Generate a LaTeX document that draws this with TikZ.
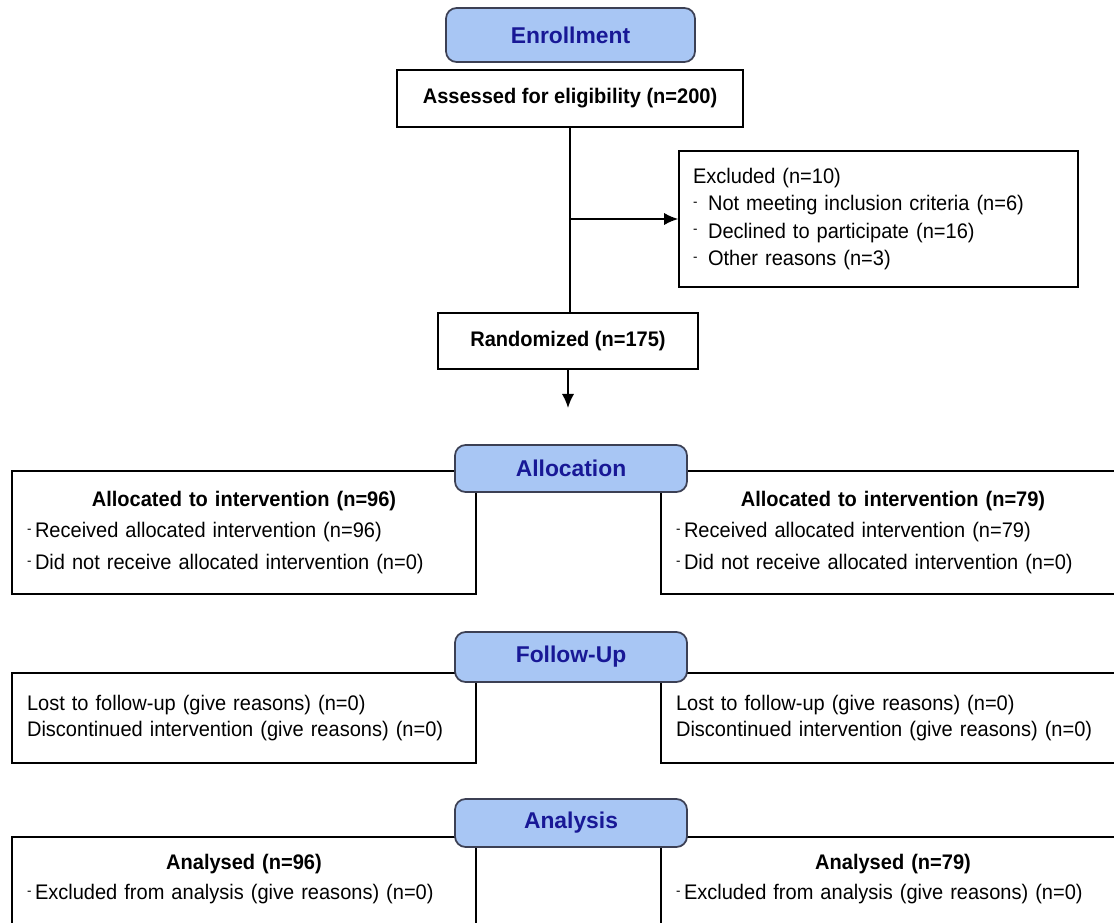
\documentclass[tikz,border=0pt]{standalone}
\usepackage{fontspec}
\setmainfont{Liberation Sans}[FakeStretch=0.95]
\newfontfamily\hdrfont{Liberation Sans}
\usepackage{xcolor}
\usetikzlibrary{arrows.meta}
\definecolor{hdrfill}{RGB}{168,198,244}
\definecolor{hdrline}{RGB}{60,64,84}
\definecolor{hdrtext}{RGB}{24,24,150}
\newcommand\dsh{\raisebox{.4ex}{\footnotesize -}\,}

\begin{document}
\begin{tikzpicture}
[x=0.02cm, y=-0.02cm,
 HeadNode/.style={rectangle, rounded corners=6pt,
    draw=hdrline, fill=hdrfill, line width=1pt,
    minimum width=4.64cm, minimum height=0.94cm,
    font=\hdrfont\fontsize{13}{15}\selectfont\bfseries, text=hdrtext},
 BoxNode/.style={rectangle,
    draw, fill=white, line width=1pt,
    font=\fontsize{12}{14}\selectfont},
 GroupNode/.style={BoxNode,
    minimum width=9.28cm, text width=8.68cm, inner xsep=0.3cm,
    align=left},
 Link/.style={line width=1pt},
 LinkArrow/.style={Link, -{Latex[length=8pt,width=7pt]}}]
\useasboundingbox (0,0) rectangle (1114,922);

% enrollment
\node[BoxNode, minimum width=6.92cm, minimum height=1.14cm, font=\fontsize{12}{14}\selectfont\bfseries]
    (assess) at (570,98.5) {Assessed for eligibility (n=200)};
\node[BoxNode, minimum width=7.98cm, minimum height=2.72cm, text width=7.42cm,
    inner xsep=0.28cm, align=left, font=\fontsize{12}{15.6}\selectfont]
    (excl) at (878.5,219) {Excluded (n=10)\\
    \dsh\ Not meeting inclusion criteria (n=6)\\
    \dsh\ Declined to participate (n=16)\\
    \dsh\ Other reasons (n=3)};
\node[BoxNode, minimum width=5.2cm, minimum height=1.12cm, font=\fontsize{12}{14}\selectfont\bfseries]
    (rand) at (568,341) {Randomized (n=175)};
\coordinate (allocTip) at (568,408);

\draw[Link] (assess.south) -- (assess.south |- rand.north);
\draw[LinkArrow] (assess.south |- excl.west) -- (excl.west);
\draw[LinkArrow] (rand.south) -- (allocTip);

% allocation
\node[GroupNode, minimum height=2.46cm, font=\fontsize{12}{18}\selectfont]
    (allocL) at (244,532.5) {\makebox[\hsize]{\bfseries Allocated to intervention (n=96)}\\
    \dsh Received allocated intervention (n=96)\\
    \dsh Did not receive allocated intervention (n=0)};
\node[GroupNode, minimum height=2.46cm, font=\fontsize{12}{18}\selectfont]
    (allocR) at (893,532.5) {\makebox[\hsize]{\bfseries Allocated to intervention (n=79)}\\
    \dsh Received allocated intervention (n=79)\\
    \dsh Did not receive allocated intervention (n=0)};

% follow-up
\node[GroupNode, minimum height=1.8cm, font=\fontsize{12}{14.7}\selectfont]
    (followL) at (244,718) {Lost to follow-up (give reasons) (n=0)\\
    Discontinued intervention (give reasons) (n=0)};
\node[GroupNode, minimum height=1.8cm, font=\fontsize{12}{14.7}\selectfont]
    (followR) at (893,718) {Lost to follow-up (give reasons) (n=0)\\
    Discontinued intervention (give reasons) (n=0)};

% analysis
\node[GroupNode, minimum height=2.2cm, font=\fontsize{12}{17}\selectfont]
    (analysL) at (244,892) {\makebox[\hsize]{\bfseries Analysed (n=96)}\\
    \dsh Excluded from analysis (give reasons) (n=0)\\ \mbox{}};
\node[GroupNode, minimum height=2.2cm, font=\fontsize{12}{17}\selectfont]
    (analysR) at (893,892) {\makebox[\hsize]{\bfseries Analysed (n=79)}\\
    \dsh Excluded from analysis (give reasons) (n=0)\\ \mbox{}};

% stage headers
\node[HeadNode, minimum width=4.98cm, minimum height=1.08cm] (enrolHead) at (570.5,35) {Enrollment};
\node[HeadNode] (allocHead) at (571,468.5) {Allocation};
\node[HeadNode, minimum height=1cm] (followHead) at (571,657) {Follow-Up};
\node[HeadNode, minimum height=0.96cm] (analysHead) at (571,823) {Analysis};
\end{tikzpicture}
\end{document}
